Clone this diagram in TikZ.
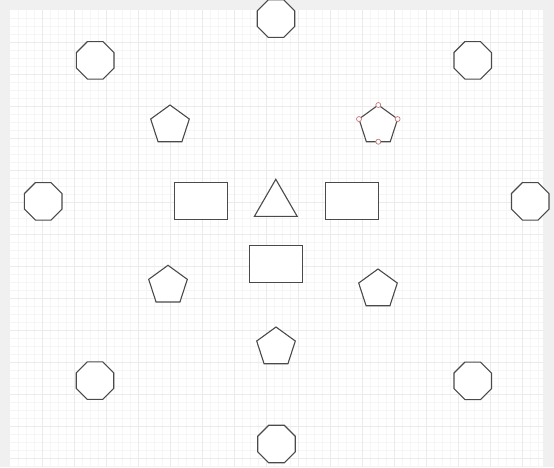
\documentclass[tikz,border=0pt]{standalone}
\usetikzlibrary{shapes.geometric}
\definecolor{pagegray}{HTML}{F0F0F0}
\definecolor{minorgrid}{HTML}{F5F5F5}
\definecolor{majorgrid}{HTML}{EBEBEB}
\definecolor{edge}{HTML}{4A4A4A}
\definecolor{handlepink}{HTML}{C07878}

\begin{document}
\begin{tikzpicture}[
    x=1pt, y=-1pt, line width=1.1pt,
    octa/.style={draw=edge, fill=white, regular polygon, regular polygon sides=8, minimum size=40.6pt, inner sep=0pt, outer sep=0pt},
    penta/.style={draw=edge, fill=white, regular polygon, regular polygon sides=5, minimum size=40.6pt, inner sep=0pt, outer sep=0pt},
    tri/.style={draw=edge, fill=white, regular polygon, regular polygon sides=3, minimum size=49.4pt, inner sep=0pt, outer sep=0pt},
    box/.style={draw=edge, fill=white, rectangle, minimum width=53pt, minimum height=37pt, inner sep=0pt, outer sep=0pt},
    handle/.style={draw=handlepink, fill=white, circle, line width=0.7pt, minimum size=5pt, inner sep=0pt},
    gridline/.style={line width=0.8pt}
]
\useasboundingbox (0,0) rectangle (554,467);
\fill[pagegray] (0,0) rectangle (554,467);
\fill[white] (10,10) rectangle (543,467);
\foreach \gx in {18,26,...,542} \draw[gridline, minorgrid] (\gx+0.5,10) -- (\gx+0.5,467);
\foreach \gy in {18,26,...,466} \draw[gridline, minorgrid] (10,\gy+0.5) -- (543,\gy+0.5);
\foreach \gx in {42,74,...,542} \draw[gridline, majorgrid] (\gx+0.5,10) -- (\gx+0.5,467);
\foreach \gy in {42,74,...,466} \draw[gridline, majorgrid] (10,\gy+0.5) -- (543,\gy+0.5);
\node[octa] (Oct1) at (276, 18.6) {};
\node[octa] (Oct2) at (95.2, 60.3) {};
\node[octa] (Oct3) at (472.7, 60.3) {};
\node[octa] (Oct4) at (43.2, 201.3) {};
\node[octa] (Oct5) at (530.2, 201.3) {};
\node[octa] (Oct6) at (95, 380.6) {};
\node[octa] (Oct7) at (472.7, 380.8) {};
\node[octa] (Oct8) at (276.5, 444) {};
\node[penta] (Pen1) at (170, 125.3) {};
\node[penta] (Pen2) at (378.3, 125.3) {};
\node[penta] (Pen3) at (168, 285.6) {};
\node[penta] (Pen4) at (378, 289.3) {};
\node[penta] (Pen5) at (276, 347.3) {};
\node[box] (Box1) at (201, 201) {};
\node[box] (Box2) at (352, 201) {};
\node[box] (Box3) at (276, 264) {};
\node[tri] (Tri1) at (275.8, 204) {};
\node[handle] (Hnd1) at (Pen2.corner 1) {};
\node[handle] (Hnd2) at (Pen2.corner 2) {};
\node[handle] (Hnd3) at (Pen2.corner 5) {};
\node[handle] (Hnd4) at (Pen2.side 3) {};
\end{tikzpicture}
\end{document}
